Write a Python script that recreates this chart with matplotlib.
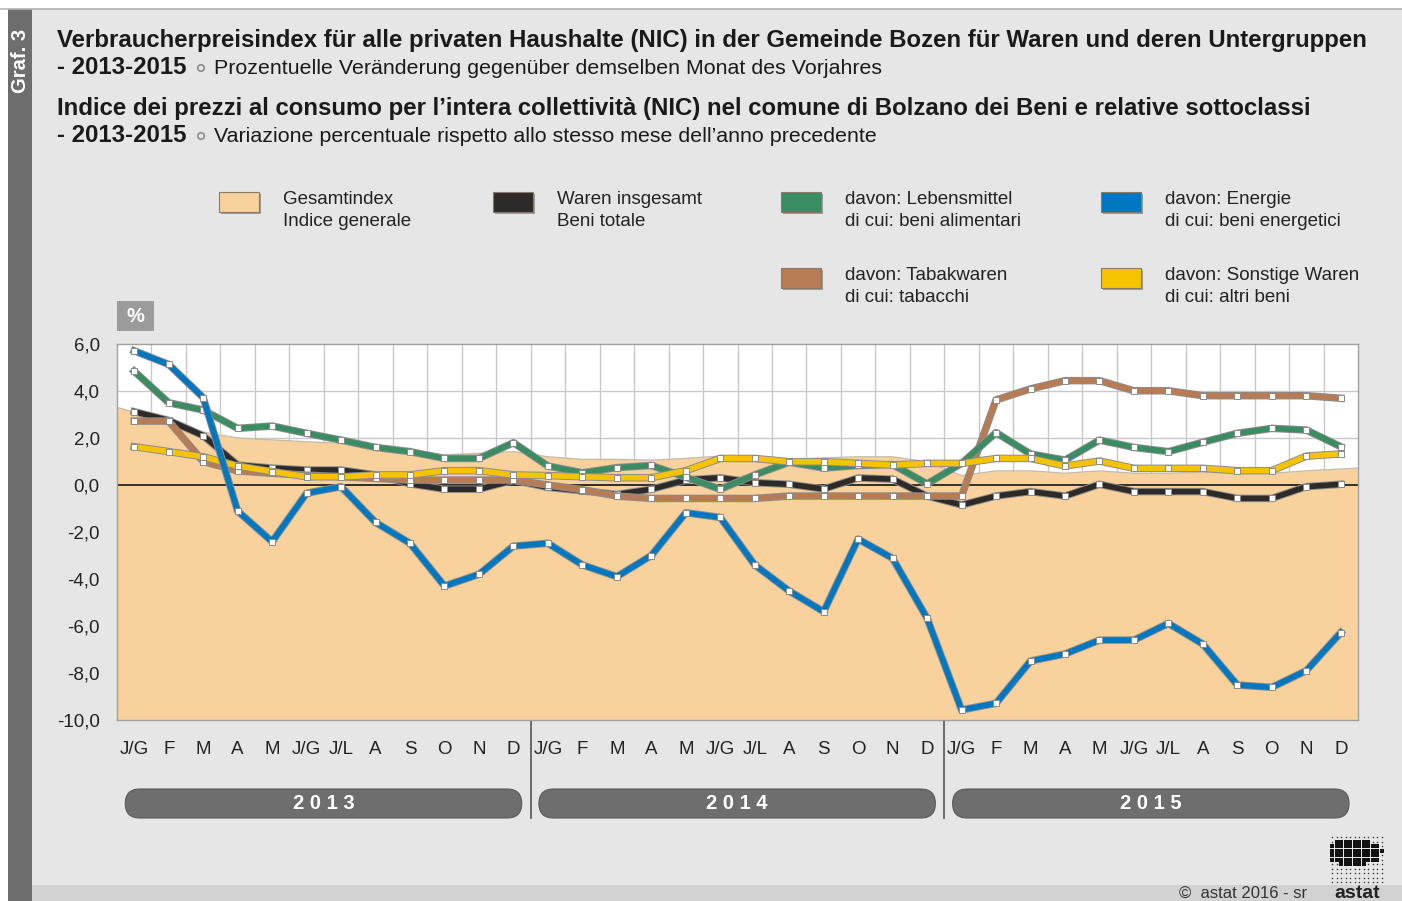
import matplotlib
matplotlib.use("Agg")
import matplotlib.pyplot as plt
import matplotlib.patheffects as pe
from matplotlib.patches import Rectangle, FancyBboxPatch
import numpy as np

plt.rcParams['font.family'] = ['Liberation Sans', 'DejaVu Sans']

# data (percent change vs same month of previous year)
months = ["J/G", "F", "M", "A", "M", "J/G", "J/L", "A", "S", "O", "N", "D"] * 3
years = ["2013", "2014", "2015"]

gesamt = [3.1, 2.67, 2.25, 2.0, 1.92, 1.84, 1.77, 1.56, 1.42, 1.28, 1.35, 1.42,
          1.2, 1.09, 1.09, 1.06, 1.13, 1.23, 1.23, 1.09, 1.15, 1.2, 1.2, 0.99,
          0.4, 0.6, 0.6, 0.5, 0.6, 0.5, 0.5, 0.55, 0.5, 0.5, 0.6, 0.68]
gesamt_edges = [3.3, 0.72]   # area continues to the plot borders

waren = [3.12, 2.75, 2.1, 0.85, 0.72, 0.64, 0.64, 0.43, 0.05, -0.18, -0.18, 0.2,
         -0.1, -0.25, -0.4, -0.18, 0.21, 0.31, 0.1, 0.03, -0.17, 0.3, 0.25, -0.47,
         -0.85, -0.47, -0.28, -0.47, 0.03, -0.28, -0.28, -0.28, -0.57, -0.57, -0.07, 0.03]

lebensmittel = [4.84, 3.5, 3.19, 2.41, 2.51, 2.2, 1.91, 1.6, 1.42, 1.13, 1.13, 1.8,
                0.81, 0.52, 0.74, 0.83, 0.33, -0.18, 0.43, 0.97, 0.72, 0.83, 0.87, 0.05,
                0.92, 2.23, 1.32, 1.06, 1.91, 1.6, 1.42, 1.82, 2.2, 2.41, 2.34, 1.63]

energie = [5.71, 5.13, 3.72, -1.11, -2.41, -0.35, -0.07, -1.59, -2.48, -4.3, -3.8, -2.6,
           -2.48, -3.4, -3.9, -3.0, -1.18, -1.38, -3.4, -4.51, -5.39, -2.3, -3.12, -5.67,
           -9.57, -9.29, -7.49, -7.19, -6.6, -6.6, -5.89, -6.77, -8.51, -8.61, -7.9, -6.28]

tabak = [2.72, 2.72, 1.0, 0.6, 0.5, 0.42, 0.35, 0.28, 0.21, 0.21, 0.21, 0.21,
         0.0, -0.2, -0.47, -0.57, -0.57, -0.57, -0.57, -0.47, -0.47, -0.47, -0.47, -0.47,
         -0.47, 3.62, 4.09, 4.44, 4.44, 4.01, 4.01, 3.8, 3.8, 3.8, 3.8, 3.69]

sonstige = [1.63, 1.42, 1.2, 0.81, 0.57, 0.35, 0.35, 0.43, 0.43, 0.61, 0.61, 0.43,
            0.4, 0.35, 0.31, 0.31, 0.61, 1.13, 1.13, 0.99, 0.99, 0.92, 0.85, 0.92,
            0.92, 1.13, 1.13, 0.81, 1.02, 0.71, 0.71, 0.71, 0.61, 0.61, 1.23, 1.32]

c_area = "#f8d19c"
c_black = "#2e2a28"
c_green = "#3a8c62"
c_blue = "#0077c1"
c_brown = "#b87c55"
c_yellow = "#f6c300"
bg = "#e6e6e6"

W, H = 1402, 901
fig = plt.figure(figsize=(W / 100, H / 100), dpi=100, facecolor=bg)

# decoration layer in pixel coords (y up)
deco = fig.add_axes([0, 0, 1, 1])
deco.set_xlim(0, W)
deco.set_ylim(0, H)
deco.axis("off")
deco.add_patch(Rectangle((0, H - 8), W, 8, color="white", lw=0))
deco.plot([0, W], [H - 8.5, H - 8.5], color="#b5b5b5", lw=1.2)
deco.add_patch(Rectangle((0, 0), 8, H, color="white", lw=0))
deco.add_patch(Rectangle((8, 0), 24, H - 9, color="#6e6e6e", lw=0))
deco.add_patch(Rectangle((32, 0), W - 32, 16, color="#d2d2d2", lw=0))
deco.text(20, H - 61, "Graf. 3", rotation=90, color="white", fontsize=14.5,
          fontweight="bold", ha="center", va="center")


def ftxt(x, y, s, **kw):
    fig.text(x / W, 1 - y / H, s, **kw)


# titles
tcol = "#1a1a1a"
ftxt(57, 40, "Verbraucherpreisindex für alle privaten Haushalte (NIC) in der Gemeinde Bozen für Waren und deren Untergruppen",
     fontsize=17.3, fontweight="bold", va="center", color=tcol)
ftxt(57, 68, "- 2013-2015", fontsize=17.3, fontweight="bold", va="center", color=tcol)
ftxt(57, 108, "Indice dei prezzi al consumo per l’intera collettività (NIC) nel comune di Bolzano dei Beni e relative sottoclassi",
     fontsize=17.3, fontweight="bold", va="center", color=tcol)
ftxt(57, 136, "- 2013-2015", fontsize=17.3, fontweight="bold", va="center", color=tcol)
ftxt(214, 68, "Prozentuelle Veränderung gegenüber demselben Monat des Vorjahres",
     fontsize=15.4, va="center", color=tcol)
ftxt(214, 136, "Variazione percentuale rispetto allo stesso mese dell’anno precedente",
     fontsize=15.4, va="center", color=tcol)
for yy in (68, 136):
    deco.scatter([201], [H - yy], s=22, facecolor="none", edgecolor="#8c8c8c", lw=1.2)

# legend
legend_items = [
    (219, 202, c_area, "Gesamtindex", "Indice generale"),
    (493, 202, c_black, "Waren insgesamt", "Beni totale"),
    (781, 202, c_green, "davon: Lebensmittel", "di cui: beni alimentari"),
    (1101, 202, c_blue, "davon: Energie", "di cui: beni energetici"),
    (781, 278, c_brown, "davon: Tabakwaren", "di cui: tabacchi"),
    (1101, 278, c_yellow, "davon: Sonstige Waren", "di cui: altri beni"),
]
for x0, yc, col, l1, l2 in legend_items:
    deco.add_patch(Rectangle((x0 + 2, H - yc - 12), 40, 20, color="#9a9a9a", lw=0))
    deco.add_patch(Rectangle((x0, H - yc - 10), 40, 20, facecolor=col,
                             edgecolor="#8a7a6a", lw=0.8))
    ftxt(x0 + 64, yc - 2, l1, fontsize=13.5, va="center", color="#222222")
    ftxt(x0 + 64, yc + 19, l2, fontsize=13.5, va="center", color="#222222")

# "%" box
deco.add_patch(Rectangle((117, H - 331), 37, 30, color="#9b9b9b", lw=0))
ftxt(135.5, 316, "%", fontsize=14.5, fontweight="bold", color="white",
     ha="center", va="center")

# main chart
ax = fig.add_axes([117 / W, 1 - 720 / H, (1358 - 117) / W, (720 - 344) / H])
ax.set_facecolor("white")
x = np.arange(len(months))
ax.set_xlim(-0.5, len(months) - 0.5)
ax.set_ylim(-10, 6)

for gx in np.arange(0.5, len(months) - 0.5, 1):
    ax.axvline(gx, color="#c8c8c8", lw=1, zorder=0)
for gy in range(-8, 6, 2):
    ax.axhline(gy, color="#c8c8c8", lw=1, zorder=0)

xa = np.concatenate([[-0.5], x, [len(months) - 0.5]])
ya = np.concatenate([[gesamt_edges[0]], gesamt, [gesamt_edges[1]]])
ax.fill_between(xa, -10, ya, color=c_area, lw=0, zorder=1)
ax.plot(xa, ya, color="#c9bca8", lw=1, zorder=1.1)
ax.axhline(0, color="#222222", lw=1.3, zorder=1.5)

series = [(waren, c_black), (tabak, c_brown), (lebensmittel, c_green),
          (sonstige, c_yellow), (energie, c_blue)]
for i, (vals, col) in enumerate(series):
    z = 2 + i
    ax.plot(x, vals, color=col, lw=4, zorder=z, solid_joinstyle="round",
            path_effects=[pe.Stroke(linewidth=5.4, foreground="#8c8c8c"), pe.Normal()])
    ax.plot(x, vals, ls="none", marker="s", ms=5, mfc="white", mec="#8a8a8a",
            mew=0.7, zorder=z + 0.5)

ax.set_yticks(range(-10, 7, 2))
ax.set_yticklabels([f"{v},0" for v in range(-10, 7, 2)], fontsize=13.5, color="#222222")
ax.set_xticks(x)
ax.set_xticklabels(months, fontsize=13.5, color="#222222")
ax.tick_params(length=0)
ax.tick_params(axis="y", pad=12.5)
ax.tick_params(axis="x", pad=15)
for s in ax.spines.values():
    s.set_color("#a0a0a0")
    s.set_linewidth(1)

# year pills and separators
for k, yr in enumerate(years):
    xl = ax.transData.transform((k * 12 - 0.26, 0))[0]
    xr = ax.transData.transform((k * 12 + 11.24, 0))[0]
    deco.add_patch(FancyBboxPatch((xl, H - 818), xr - xl, 29,
                                  boxstyle="round,pad=0,rounding_size=14.5",
                                  facecolor="#6e6e6e", edgecolor="#5a5a5a", lw=0.8))
    deco.text((xl + xr) / 2, H - 803.5, " ".join(yr), color="white", fontsize=14.5,
              fontweight="bold", ha="center", va="center")
for k in range(1, len(years)):
    xs = ax.transData.transform((k * 12 - 0.5, 0))[0]
    deco.plot([xs, xs], [H - 720, H - 818], color="#555555", lw=1.2)

# copyright and logo
ftxt(1243, 893, "©  astat 2016 - sr", fontsize=12, ha="center", va="center", color="#333333")
gx, gy = np.meshgrid(np.arange(1332, 1384, 4.5), np.arange(H - 882, H - 834, 4.5))
gx, gy = gx.ravel(), gy.ravel()
dense = ((gx - 1352) / 30) ** 2 + ((gy - (H - 852)) / 14) ** 2 < 1
deco.scatter(gx[~dense], gy[~dense], s=1.2, color="#333333", lw=0)
deco.scatter(gx[dense], gy[dense], s=9, color="#111111", marker="s", lw=0)
ftxt(1357, 893, "astat", fontsize=14, fontweight="bold", ha="center", va="center", color="#222222")

fig.savefig("out.png", dpi=100, facecolor=bg)
